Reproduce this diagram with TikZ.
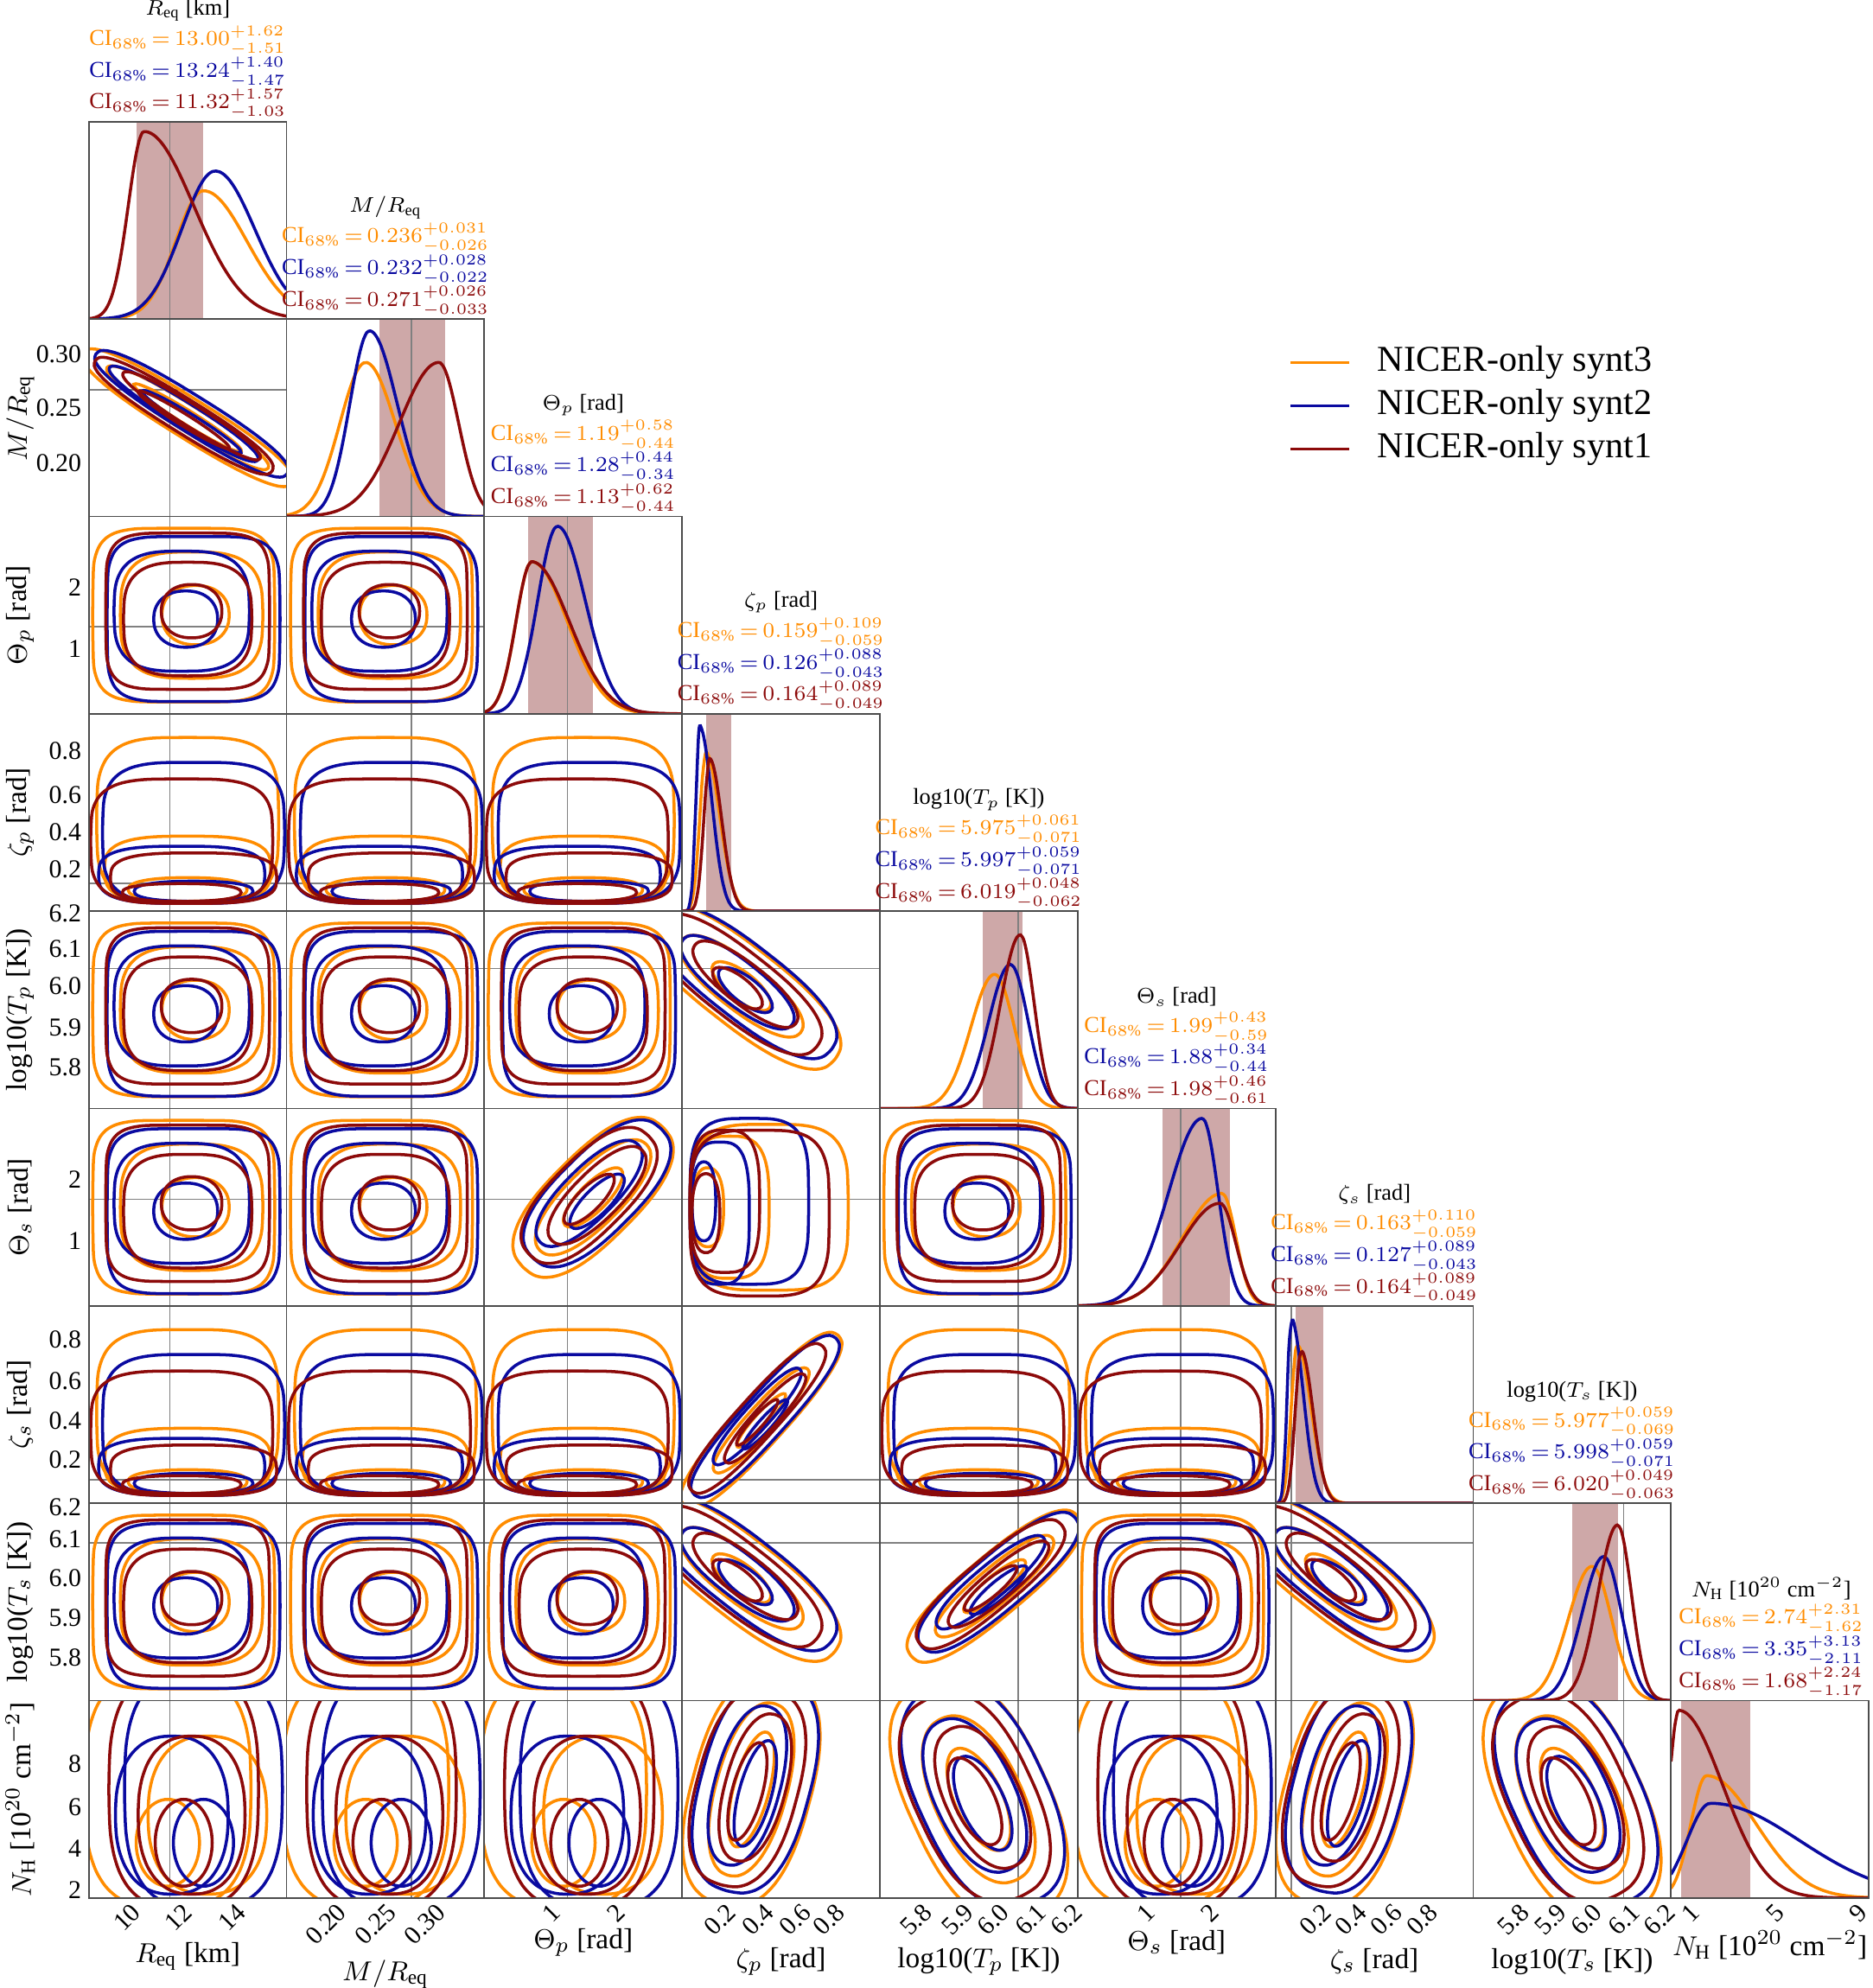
\documentclass[tikz,border=0pt]{standalone}
\usepackage{fontspec}
\setmainfont{Liberation Serif}
\definecolor{corange}{RGB}{255,140,0}
\definecolor{cblue}{RGB}{10,10,160}
\definecolor{cred}{RGB}{140,10,10}
\definecolor{cband}{RGB}{206,168,168}
\tikzset{cline/.style={line width=1pt},truth/.style={gray,line width=0.5pt},frame/.style={draw=black!70,line width=0.5pt},
 lab/.style={font=\fontsize{7.5}{9}\selectfont,inner sep=1pt},
 tick/.style={font=\fontsize{8.5}{10}\selectfont,inner sep=1pt},
 axl/.style={font=\fontsize{9.5}{11}\selectfont,inner sep=1pt}}
\newcommand{\cnt}[7]{\draw[#1,cline] plot[smooth cycle,domain=0:348,samples=30,variable=\t]
 ({(#2)+(#4)*cos(#6)*sign(cos(\t))*pow(abs(cos(\t))+0.001,#7)-(#5)*sin(#6)*sign(sin(\t))*pow(abs(sin(\t))+0.001,#7)},
  {(#3)+(#4)*sin(#6)*sign(cos(\t))*pow(abs(cos(\t))+0.001,#7)+(#5)*cos(#6)*sign(sin(\t))*pow(abs(sin(\t))+0.001,#7)});}
\newcommand{\typeU}{\foreach \cc/\dx/\dy/\sc in {corange/-0.02/0.0/1.0,cblue/0.03/-0.02/0.95,cred/0.0/0.02/0.9}{
 \cnt{\cc}{0.5+(\dx)}{0.5+(\dy)}{0.46*\sc}{0.44*\sc}{0}{0.4}
 \cnt{\cc}{0.5-(\dx)}{0.5-(\dy)}{0.36*\sc}{0.32*\sc}{0}{0.65}
 \cnt{\cc}{0.52-(\dx)}{0.5+(\dy)}{0.17*\sc}{0.15*\sc}{0}{0.9}}}
\newcommand{\typeZ}{\foreach \cc/\dx/\sc in {corange/0.0/1.0,cblue/0.03/0.85,cred/-0.03/0.75}{
 \cnt{\cc}{0.5+(\dx)}{0.04+0.42*\sc}{0.46}{0.42*\sc}{0}{0.55}
 \cnt{\cc}{0.5-(\dx)}{0.04+0.17*\sc}{0.42}{0.17*\sc}{0}{0.65}
 \cnt{\cc}{0.5+(\dx)}{0.05+0.06*\sc}{0.3}{0.06*\sc}{0}{0.85}}}
\newcommand{\typeXZ}{\foreach \cc/\dx/\sc in {corange/0.0/1.0,cblue/0.03/0.75,cred/-0.03/0.88}{
 \cnt{\cc}{0.04+0.4*\sc}{0.5+(\dx)}{0.4*\sc}{0.42}{0}{0.55}
 \cnt{\cc}{0.04+0.2*\sc}{0.5-(\dx)}{0.2*\sc}{0.36}{0}{0.65}
 \cnt{\cc}{0.05+0.08*\sc}{0.5+(\dx)}{0.08*\sc}{0.2}{0}{0.85}}}
\newcommand{\typeN}{\foreach \cc/\dx/\sc in {corange/-0.1/1.0,cblue/0.08/0.95,cred/-0.02/0.9}{
 \cnt{\cc}{0.5+(\dx)}{0.55}{0.42*\sc}{0.6}{0}{0.7}
 \cnt{\cc}{0.5-(\dx)}{0.42}{0.3*\sc}{0.4}{0}{0.85}
 \cnt{\cc}{0.5+(\dx)}{0.28}{0.16*\sc}{0.22}{0}{1}}}
\newcommand{\typeR}[9]{\foreach \cc/\dx/\dy/\sc in {corange/0.0/0.0/1.0,cblue/0.02/0.02/0.92,cred/-0.02/0.01/0.85}{
 \cnt{\cc}{#1+(\dx)}{#2+(\dy)}{#4*\sc}{#5*\sc}{#3}{0.8}
 \cnt{\cc}{#1-(\dx)}{#2+(\dy)}{#6*\sc}{#7*\sc}{#3}{0.9}
 \cnt{\cc}{#1+(\dx)}{#2-(\dy)}{#8*\sc}{#9*\sc}{#3}{1}}}
\newcommand{\typeDneg}{\typeR{0.5}{0.5}{-32}{0.62}{0.1}{0.48}{0.065}{0.32}{0.035}}
\newcommand{\typeTneg}{\typeR{0.3}{0.62}{-38}{0.6}{0.2}{0.38}{0.12}{0.18}{0.07}}
\newcommand{\typeDpos}{\typeR{0.55}{0.55}{45}{0.5}{0.22}{0.38}{0.14}{0.2}{0.07}}
\newcommand{\typeZZ}{\typeR{0.4}{0.42}{48}{0.58}{0.12}{0.35}{0.07}{0.18}{0.035}}
\newcommand{\typeTT}{\typeR{0.58}{0.58}{40}{0.55}{0.15}{0.38}{0.09}{0.2}{0.05}}
\newcommand{\typeNZ}{\typeR{0.35}{0.55}{75}{0.6}{0.3}{0.45}{0.18}{0.3}{0.09}}
\newcommand{\typeNneg}{\typeR{0.5}{0.5}{-65}{0.65}{0.35}{0.45}{0.22}{0.28}{0.12}}
\def\txarr{{0.41,0.63,0.42,-1,0.70,0.52,0.08,0.76,-1}}
\def\tyarr{{-1,0.64,0.44,0.14,0.71,0.54,0.12,0.80,-1}}
\newcommand{\pnl}[3]{\begin{scope}[shift={(70+156*#2,96+155.67*(#1+1))},x=22.885mm,y=22.837mm]
 \pgfmathparse{\txarr[#2]}\let\tX\pgfmathresult \pgfmathparse{\tyarr[#1]}\let\tY\pgfmathresult
 \begin{scope}\clip (0,0) rectangle (1,1);
 \draw[truth] (\tX,0) -- (\tX,1); \draw[truth] (0,\tY) -- (1,\tY);
 \csname type#3\endcsname
 \end{scope}
 \draw[frame] (0,0) rectangle (1,1);
\end{scope}}
\newcommand{\dens}[5]{\draw[#1,cline] plot[smooth,domain=0:1,samples=60] (\x,{#5*ifthenelse(\x<#2,exp(-min(30,(\x-#2)^2/(2*#3*#3))),exp(-min(30,(\x-#2)^2/(2*#4*#4))))});}
\newcommand{\dpnl}[4]{\begin{scope}[shift={(70+156*#1,96+155.67*(#1+1))},x=22.885mm,y=22.837mm]
 \pgfmathparse{\txarr[#1]}\let\tX\pgfmathresult
 \begin{scope}\clip (0,0) rectangle (1,1);
 \fill[cband] (#2,0) rectangle (#3,1);
 \draw[truth] (\tX,0) -- (\tX,1);
 #4
 \end{scope}
 \draw[frame] (0,0) rectangle (1,1);
\end{scope}}
\newcommand{\ci}[1]{CI$_{68\%}\,{=}\,#1$}
\newcommand{\ttl}[5]{\begin{scope}[shift={(148+156*#1,96+155.67*#1)}]
 \node[lab] at (0,-88) {#2};
 \node[lab,text=corange] at (0,-64) {\ci{#3}};
 \node[lab,text=cblue] at (0,-39) {\ci{#4}};
 \node[lab,text=cred] at (0,-14) {\ci{#5}};
\end{scope}}
\begin{document}
\begin{tikzpicture}[x=0.1467mm,y=-0.1467mm]
\useasboundingbox (0,0) rectangle (1477,1568);
\pnl{1}{0}{Dneg}
\pnl{2}{0}{U}\pnl{2}{1}{U}
\pnl{3}{0}{Z}\pnl{3}{1}{Z}\pnl{3}{2}{Z}
\pnl{4}{0}{U}\pnl{4}{1}{U}\pnl{4}{2}{U}\pnl{4}{3}{Tneg}
\pnl{5}{0}{U}\pnl{5}{1}{U}\pnl{5}{2}{Dpos}\pnl{5}{3}{XZ}\pnl{5}{4}{U}
\pnl{6}{0}{Z}\pnl{6}{1}{Z}\pnl{6}{2}{Z}\pnl{6}{3}{ZZ}\pnl{6}{4}{Z}\pnl{6}{5}{Z}
\pnl{7}{0}{U}\pnl{7}{1}{U}\pnl{7}{2}{U}\pnl{7}{3}{Tneg}\pnl{7}{4}{TT}\pnl{7}{5}{U}\pnl{7}{6}{Tneg}
\pnl{8}{0}{N}\pnl{8}{1}{N}\pnl{8}{2}{N}\pnl{8}{3}{NZ}\pnl{8}{4}{Nneg}\pnl{8}{5}{N}\pnl{8}{6}{NZ}\pnl{8}{7}{Nneg}
\dpnl{0}{0.24}{0.58}{\dens{corange}{0.58}{0.14}{0.22}{0.65}\dens{cblue}{0.64}{0.17}{0.2}{0.75}\dens{cred}{0.28}{0.08}{0.25}{0.95}}
\dpnl{1}{0.47}{0.80}{\dens{corange}{0.4}{0.13}{0.15}{0.78}\dens{cblue}{0.42}{0.1}{0.14}{0.94}\dens{cred}{0.77}{0.2}{0.1}{0.78}}
\dpnl{2}{0.22}{0.55}{\dens{corange}{0.24}{0.08}{0.18}{0.77}\dens{cblue}{0.37}{0.1}{0.14}{0.95}\dens{cred}{0.24}{0.08}{0.19}{0.77}}
\dpnl{3}{0.12}{0.25}{\dens{corange}{0.12}{0.03}{0.07}{0.8}\dens{cblue}{0.09}{0.02}{0.06}{0.93}\dens{cred}{0.14}{0.03}{0.06}{0.77}}
\dpnl{4}{0.52}{0.72}{\dens{corange}{0.58}{0.12}{0.1}{0.68}\dens{cblue}{0.66}{0.11}{0.09}{0.73}\dens{cred}{0.71}{0.1}{0.07}{0.88}}
\dpnl{5}{0.43}{0.77}{\dens{corange}{0.73}{0.2}{0.07}{0.57}\dens{cblue}{0.63}{0.17}{0.08}{0.95}\dens{cred}{0.72}{0.2}{0.08}{0.52}}
\dpnl{6}{0.10}{0.24}{\dens{corange}{0.11}{0.03}{0.07}{0.8}\dens{cblue}{0.08}{0.02}{0.06}{0.93}\dens{cred}{0.13}{0.03}{0.06}{0.77}}
\dpnl{7}{0.50}{0.73}{\dens{corange}{0.6}{0.12}{0.1}{0.68}\dens{cblue}{0.66}{0.11}{0.09}{0.73}\dens{cred}{0.73}{0.1}{0.07}{0.89}}
\dpnl{8}{0.05}{0.40}{\dens{corange}{0.18}{0.08}{0.25}{0.62}\dens{cblue}{0.2}{0.12}{0.45}{0.48}\dens{cred}{0.04}{0.05}{0.22}{0.95}}
\ttl{0}{$R_{\rm eq}$ [km]}{13.00^{+1.62}_{-1.51}}{13.24^{+1.40}_{-1.47}}{11.32^{+1.57}_{-1.03}}
\ttl{1}{$M/R_{\rm eq}$}{0.236^{+0.031}_{-0.026}}{0.232^{+0.028}_{-0.022}}{0.271^{+0.026}_{-0.033}}
\ttl{2}{$\Theta_p$ [rad]}{1.19^{+0.58}_{-0.44}}{1.28^{+0.44}_{-0.34}}{1.13^{+0.62}_{-0.44}}
\ttl{3}{$\zeta_p$ [rad]}{0.159^{+0.109}_{-0.059}}{0.126^{+0.088}_{-0.043}}{0.164^{+0.089}_{-0.049}}
\ttl{4}{log10($T_p$ [K])}{5.975^{+0.061}_{-0.071}}{5.997^{+0.059}_{-0.071}}{6.019^{+0.048}_{-0.062}}
\ttl{5}{$\Theta_s$ [rad]}{1.99^{+0.43}_{-0.59}}{1.88^{+0.34}_{-0.44}}{1.98^{+0.46}_{-0.61}}
\ttl{6}{$\zeta_s$ [rad]}{0.163^{+0.110}_{-0.059}}{0.127^{+0.089}_{-0.043}}{0.164^{+0.089}_{-0.049}}
\ttl{7}{log10($T_s$ [K])}{5.977^{+0.059}_{-0.069}}{5.998^{+0.059}_{-0.071}}{6.020^{+0.049}_{-0.063}}
\begin{scope}[shift={(1397,1341)}]
 \node[lab] at (0,-88) {$N_{\rm H}$ [10$^{20}$ cm$^{-2}$]};
 \node[lab,text=corange] at (0,-64) {\ci{2.74^{+2.31}_{-1.62}}};
 \node[lab,text=cblue] at (0,-39) {\ci{3.35^{+3.13}_{-2.11}}};
 \node[lab,text=cred] at (0,-14) {\ci{1.68^{+2.24}_{-1.17}}};
\end{scope}
\foreach \r/\lst in {1/{0.30/0.82,0.25/0.55,0.20/0.27},2/{2/0.64,1/0.33},3/{0.8/0.81,0.6/0.59,0.4/0.40,0.2/0.21},
 4/{6.2/0.99,6.1/0.81,6.0/0.62,5.9/0.41,5.8/0.21},5/{2/0.64,1/0.33},6/{0.8/0.83,0.6/0.62,0.4/0.42,0.2/0.22},
 7/{6.2/0.98,6.1/0.82,6.0/0.62,5.9/0.42,5.8/0.22},8/{8/0.68,6/0.46,4/0.25,2/0.04}}{
 \foreach \v/\p in \lst {\node[tick,anchor=east] (yt\r-\v) at (67,{96+155.67*(\r+1-\p)}) {\v};}}
\foreach \cl/\lst in {0/{10/0.24,12/0.5,14/0.77},1/{0.20/0.28,0.25/0.53,0.30/0.78},2/{1/0.36,2/0.69},
 3/{0.2/0.25,0.4/0.44,0.6/0.63,0.8/0.8},4/{5.8/0.24,5.9/0.45,6.0/0.63,6.1/0.82,6.2/1.0},5/{1/0.37,2/0.69},
 6/{0.2/0.26,0.4/0.44,0.6/0.62,0.8/0.8},7/{5.8/0.26,5.9/0.45,6.0/0.63,6.1/0.82,6.2/1.0},8/{1/0.12,5/0.55,9/0.97}}{
 \foreach \v/\p in \lst {\node[tick,rotate=45,anchor=east] (xt\cl-\v) at ({70+156*(\cl+\p)+2},1503) {\v};}}
\foreach \r/\t in {1/{$M/R_{\rm eq}$},2/{$\Theta_p$ [rad]},3/{$\zeta_p$ [rad]},4/{log10($T_p$ [K])},5/{$\Theta_s$ [rad]},6/{$\zeta_s$ [rad]},7/{log10($T_s$ [K])},8/{$N_{\rm H}$ [10$^{20}$ cm$^{-2}$]}}
 {\node[axl,rotate=90] (yl\r) at (16,{96+155.67*(\r+0.5)}) {\t};}
\foreach \cl/\yy/\t in {0/1543/{$R_{\rm eq}$ [km]},1/1557/{$M/R_{\rm eq}$},2/1532/{$\Theta_p$ [rad]},3/1547/{$\zeta_p$ [rad]},4/1547/{log10($T_p$ [K])},5/1532/{$\Theta_s$ [rad]},6/1547/{$\zeta_s$ [rad]},7/1547/{log10($T_s$ [K])},8/1534/{$N_{\rm H}$ [10$^{20}$ cm$^{-2}$]}}
 {\node[axl] (xl\cl) at ({70+156*(\cl+0.5)},\yy) {\t};}
\foreach \k/\cc/\t in {0/corange/NICER-only synt3,1/cblue/NICER-only synt2,2/cred/NICER-only synt1}{
 \coordinate (la\k) at (1018,{286+34*\k}); \coordinate (lb\k) at (1064,{286+34*\k});
 \draw[\cc,line width=1pt] (la\k) -- (lb\k);
 \node[anchor=west,font=\fontsize{12}{14}\selectfont] (lt\k) at (1078,{286+34*\k}) {\t};}
\end{tikzpicture}
\end{document}
